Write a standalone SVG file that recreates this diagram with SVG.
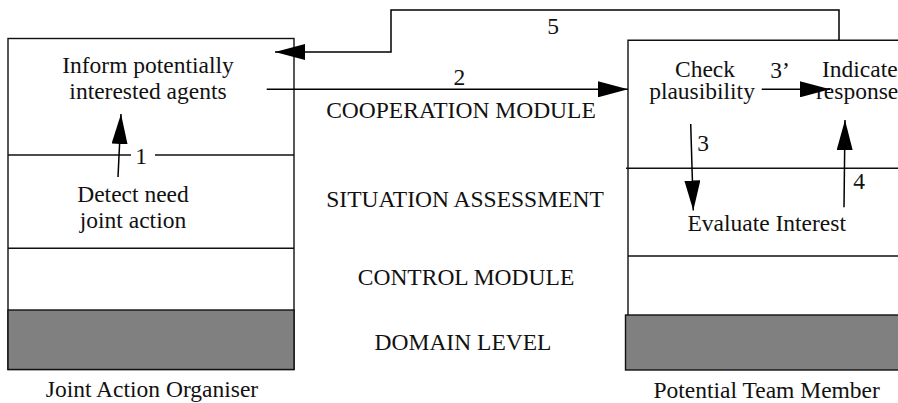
<svg xmlns="http://www.w3.org/2000/svg" width="898" height="403" viewBox="0 0 898 403">
<defs>
<marker id="ah" markerUnits="userSpaceOnUse" markerWidth="30" markerHeight="16" refX="30" refY="8" orient="auto">
<path d="M0,0 L30,8 L0,16 z" fill="#000"/>
</marker>
<style>
text{font-family:"Liberation Serif","Times New Roman",serif;font-size:23.5px;fill:#111;}
.c{text-anchor:middle;}
.box{fill:#fff;stroke:#111;stroke-width:1.4;}
.ln{stroke:#111;stroke-width:1.4;fill:none;}
.dom{fill:#808080;stroke:#111;stroke-width:1.4;}
.con{stroke:#000;stroke-width:1.5;fill:none;marker-end:url(#ah);}
</style>
</defs>
<rect width="898" height="403" fill="#fff"/>

<g id="joint-action-organiser">
<rect class="box" x="8" y="38.5" width="286" height="331"/>
<line class="ln" x1="8" y1="155" x2="294" y2="155"/>
<line class="ln" x1="8" y1="248.3" x2="294" y2="248.3"/>
<rect class="dom" x="8" y="310" width="286" height="59.5"/>
<text class="c"><tspan x="148" y="72.5">Inform potentially</tspan><tspan x="148" y="99">interested agents</tspan></text>
<text class="c"><tspan x="133" y="202">Detect need</tspan><tspan x="133" y="228">joint action</tspan></text>
<text class="c" x="152" y="397">Joint Action Organiser</text>
</g>

<g id="potential-team-member">
<path class="ln" d="M898,40.3 L628,40.3 L628,315"/>
<line class="ln" x1="626" y1="168.3" x2="898" y2="168.3"/>
<line class="ln" x1="628" y1="256" x2="898" y2="256"/>
<rect class="dom" x="625.5" y="315" width="280" height="55"/>
<text class="c"><tspan x="705" y="76.5">Check</tspan><tspan x="702" y="99">plausibility</tspan></text>
<text><tspan x="822" y="76.5">Indicate</tspan><tspan x="816" y="99">response</tspan></text>
<text class="c" x="766.7" y="231">Evaluate Interest</text>
<text class="c" x="766.7" y="398">Potential Team Member</text>
</g>

<g id="layer-labels">
<text class="c" x="461" y="118">COOPERATION MODULE</text>
<text class="c" x="465" y="206.5">SITUATION ASSESSMENT</text>
<text class="c" x="466" y="285">CONTROL MODULE</text>
<text class="c" x="463" y="350">DOMAIN LEVEL</text>
</g>

<g id="connectors">
<line class="con" x1="118" y1="177" x2="121" y2="114"/>
<rect x="131" y="148" width="24" height="16" fill="#fff"/>
<text class="c" x="141" y="164">1</text>
<line class="con" x1="266.7" y1="89.3" x2="628" y2="89.3"/>
<text class="c" x="459.3" y="85">2</text>
<line class="con" x1="761.7" y1="89.3" x2="830" y2="89.3"/>
<text class="c" x="780" y="78">3’</text>
<line class="con" x1="690.7" y1="124" x2="693.3" y2="210.5"/>
<text class="c" x="703" y="151">3</text>
<line class="con" x1="844" y1="207.3" x2="845" y2="120"/>
<text class="c" x="859" y="189">4</text>
<path class="con" d="M839,40.3 L839,10 L391,10 L391,52 L275,52"/>
<text class="c" x="553" y="33.5">5</text>
</g>
</svg>
